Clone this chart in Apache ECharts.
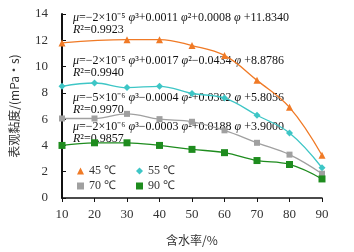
<!DOCTYPE html>
<html>
<head>
<meta charset="utf-8">
<script src="https://cdn.jsdelivr.net/npm/echarts@6/dist/echarts.min.js"></script>
<style>
  html, body { margin: 0; padding: 0; background: #fff; }
  #chart { width: 354px; height: 252px; }
</style>
</head>
<body>
<div id="chart"></div>
<script>
// water content (%)
var waterCut = [10, 20, 30, 40, 50, 60, 70, 80, 90];
// apparent viscosity (mPa·s)
var v45 = [11.8, null, 12.05, 12.05, 11.6, 10.85, 8.95, 6.9, 3.25];
var v55 = [8.5, 8.75, 8.4, 8.5, 7.95, 7.6, 6.3, 4.95, 2.3];
var v70 = [6.05, 6.05, 6.4, 6.0, 5.8, 5.15, 4.2, 3.3, 1.85];
var v90 = [4.0, 4.2, 4.2, 4.0, 3.7, 3.45, 2.85, 2.55, 1.45];
var seriesNames = ['45 ℃', '55 ℃', '70 ℃', '90 ℃'];
var yTicks = [0, 2, 4, 6, 8, 10, 12, 14];

// fit equations shown on the chart
var fitTexts = [
    ['{i|μ}=−2×10⁻⁵{i| φ}³+0.0011{i| φ}²+0.0008{i| φ} +11.8340', '{i|R}²=0.9923'],
    ['{i|μ}=−2×10⁻⁵{i| φ}³+0.0017{i| φ}²−0.0434{i| φ} +8.8786', '{i|R}²=0.9940'],
    ['{i|μ}=−5×10⁻⁶{i| φ}³−0.0004{i| φ}²+0.0302{i| φ} +5.8056', '{i|R}²=0.9970'],
    ['{i|μ}=−2×10⁻⁶{i| φ}³−0.0003{i| φ}²+0.0188{i| φ} +3.9000', '{i|R}²=0.9857']
];
var fitTops = [12, 55, 92, 121];

var colors = ['#f07a26', '#3ec6c6', '#a0a0a0', '#1e8c1e'];
var symbols = ['triangle', 'diamond', 'rect', 'rect'];
var symbolSizes = [7, 7, 6, 7];
var values = [v45, v55, v70, v90];

function pairs(arr) {
    return waterCut.map(function (x, i) { return [x, arr[i]]; });
}

var serif = '"Liberation Serif", "Times New Roman", serif';
var rich = {
    i: { fontStyle: 'italic', fontFamily: serif, fontSize: 12, fill: '#111' }
};

var graphics = [];
fitTexts.forEach(function (t, k) {
    graphics.push({
        type: 'text', left: 73, top: fitTops[k],
        style: { text: t[0] + '\n' + t[1], rich: rich, fontFamily: serif, fontSize: 12, fill: '#111', lineHeight: 12 }
    });
});

var myChart = echarts.init(document.getElementById('chart'));
var legendStyle = {
    left: 72, width: 200, orient: 'horizontal',
    itemWidth: 7, itemHeight: 7, itemGap: 20,
    textStyle: { fontFamily: serif, fontSize: 12, color: '#333' }
};
var options = {
    animation: false,
    grid: { left: 61, right: 32, top: 14, bottom: 54 },
    legend: [
        Object.assign({ top: 160, data: [{ name: seriesNames[0], icon: 'triangle' }, { name: seriesNames[1], icon: 'diamond' }] }, legendStyle),
        Object.assign({ top: 175, data: [{ name: seriesNames[2], icon: 'rect' }, { name: seriesNames[3], icon: 'rect' }] }, legendStyle)
    ],
    xAxis: {
        type: 'value', min: 10, max: 90, interval: 10,
        name: '含水率/%', nameLocation: 'middle', nameGap: 36,
        nameTextStyle: { fontFamily: '"Noto Sans CJK SC", ' + serif, fontSize: 12, color: '#333' },
        axisLine: { lineStyle: { color: '#111', width: 1.5 } },
        axisTick: { lineStyle: { color: '#111' }, length: 4 },
        axisLabel: { fontFamily: serif, fontSize: 13, color: '#333', margin: 10 },
        splitLine: { show: false }
    },
    yAxis: {
        type: 'value', min: 0, max: 14, interval: 2,
        name: '表观黏度/(mPa·s)', nameLocation: 'middle', nameGap: 42, nameRotate: 90,
        nameTextStyle: { fontFamily: '"Noto Sans CJK SC", ' + serif, fontSize: 12, color: '#333' },
        axisLine: { show: true, lineStyle: { color: '#111', width: 2 } },
        axisTick: { show: true, inside: true, length: 4, lineStyle: { color: '#111' } },
        axisLabel: { fontFamily: serif, fontSize: 13, color: '#333', margin: 14,
            formatter: function (v) { return yTicks.indexOf(v) >= 0 ? String(v) : ''; } },
        splitLine: { show: false }
    },
    graphic: graphics,
    series: seriesNames.map(function (n, i) {
        return {
            name: n, type: 'line', smooth: 0.4, connectNulls: true,
            data: pairs(values[i]),
            symbol: symbols[i], symbolSize: symbolSizes[i],
            itemStyle: { color: colors[i] },
            lineStyle: { color: colors[i], width: 1.3 }
        };
    })
};
myChart.setOption(options);
window.addEventListener('resize', myChart.resize);
</script>
</body>
</html>
